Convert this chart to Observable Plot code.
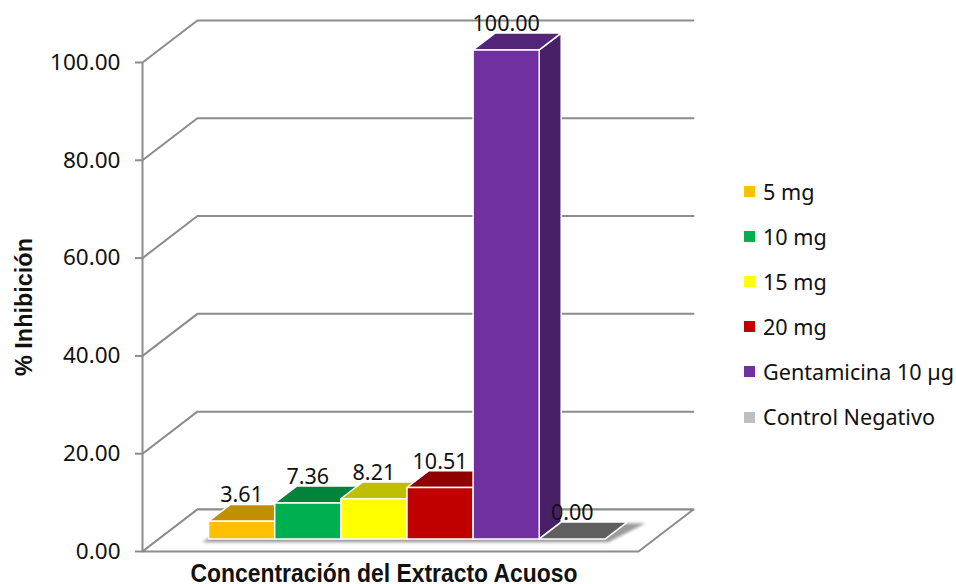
<!DOCTYPE html>
<html lang="es">
<head>
<meta charset="utf-8">
<title>% Inhibición</title>
<script src="https://cdn.jsdelivr.net/npm/d3@7"></script>
<script src="https://cdn.jsdelivr.net/npm/@observablehq/plot@0.6"></script>
<style>
  html, body { margin: 0; padding: 0; background: #fff; }
  #chart { position: relative; width: 956px; height: 584px; overflow: hidden; }
  #chart svg { display: block; }
  .legend { position: absolute; left: 743px; top: 168.5px; font: 21.6px "Noto Sans", sans-serif; color: #111; white-space: nowrap; }
  .legend div { height: 45.2px; line-height: 45.2px; display: flex; align-items: center; }
  .legend i { display: block; width: 11px; height: 11px; margin-right: 8px; border-left: 1px solid #fff; }
</style>
</head>
<body>
<div id="chart"></div>
<script>
// Inhibition by treatment
const categories = ["5 mg", "10 mg", "15 mg", "20 mg", "Gentamicina 10 µg", "Control Negativo"];
const values = [3.61, 7.36, 8.21, 10.51, 100, 0];
const frontColors = ["#FFC000", "#00B050", "#FFFF00", "#C00000", "#7030A0", "#BFBFBF"];
const topColors = ["#BF9000", "#00843C", "#BFBF00", "#900000", "#542478", "#5F5F5F"];
const sideColors = ["#806000", "#005828", "#808000", "#600000", "#482068", "#606060"];
const yTicks = [0, 20, 40, 60, 80, 100];

// Oblique projection: depth 0 is the front of the floor, depth 1 the back wall.
const floorStart = -0.75, floorEnd = 6.75;
const depthX = 0.83, depthY = 8.6;
const barFront = 0.3, barBack = 0.7;
const pt = (u, v, d) => ({x: u + d * depthX, y: v + d * depthY});

const face = (points, options) => Plot.line([...points, points[0]], {x: "x", y: "y", ...options});

const grid = yTicks.map((v) =>
  Plot.line([pt(floorStart, v, 0), pt(floorStart, v, 1), pt(floorEnd, v, 1)], {x: "x", y: "y", stroke: "#8C8C8C", strokeWidth: 2})
);

const floor = face(
  [pt(floorStart, 0, 0), pt(floorStart, 0, 1), pt(floorEnd, 0, 1), pt(floorEnd, 0, 0)],
  {fill: "#fff", stroke: "#8C8C8C", strokeWidth: 2}
);

const shadow = face(
  [pt(-0.08, -0.5, barFront - 0.02), pt(-0.02, -0.5, barBack), pt(6.25, -0.5, barBack + 0.03), pt(6.06, -0.5, barFront - 0.02)],
  {fill: "#9a9a9a", imageFilter: "blur(1.6px)"}
);

const bars = categories.flatMap((c, i) => {
  const v = values[i];
  const edge = {stroke: "#fff", strokeWidth: 1.5, strokeLinejoin: "miter"};
  const marks = [];
  if (v > 0) {
    marks.push(face(
      [pt(i + 1, 0, barFront), pt(i + 1, 0, barBack), pt(i + 1, v, barBack), pt(i + 1, v, barFront)],
      {fill: sideColors[i], ...edge}
    ));
  }
  marks.push(face(
    [pt(i, v, barFront), pt(i, v, barBack), pt(i + 1, v, barBack), pt(i + 1, v, barFront)],
    {fill: topColors[i], ...edge}
  ));
  if (v > 0) {
    marks.push(face(
      [pt(i, 0, barFront), pt(i, v, barFront), pt(i + 1, v, barFront), pt(i + 1, 0, barFront)],
      {fill: frontColors[i], ...edge}
    ));
  }
  return marks;
});

const valueLabels = Plot.text(values.map((v, i) => ({
  x: pt(i + 0.5, v, barFront).x,
  y: pt(i + 0.5, v + 1.8, barBack).y,
  label: v.toFixed(2)
})), {x: "x", y: "y", text: "label", fontSize: 21.5, fill: "#111"});

const boldFont = '"Liberation Sans", sans-serif';

const chart = Plot.plot({
  width: 956,
  height: 584,
  marginLeft: 142,
  marginRight: 318,
  marginTop: 62,
  marginBottom: 33,
  x: {domain: [floorStart, floorEnd], axis: null},
  y: {domain: [0, 100]},
  style: {fontFamily: '"Noto Sans", sans-serif', background: "#fff", overflow: "visible"},
  marks: [
    ...grid,
    floor,
    shadow,
    Plot.ruleX([floorStart], {y1: 0, y2: 100, stroke: "#8C8C8C", strokeWidth: 2}),
    Plot.axisY({
      ticks: yTicks, tickFormat: (d) => d.toFixed(2), tickSize: 7, tickPadding: 15,
      fontSize: 22.5, stroke: "#8C8C8C", strokeWidth: 2, color: "#8C8C8C", fill: "#111", label: null
    }),
    ...bars,
    valueLabels,
    Plot.text(["% Inhibición"], {
      text: (d) => d, frameAnchor: "left", textAnchor: "middle", rotate: -90, dx: -118,
      fontSize: 24, fontWeight: "bold", fontFamily: boldFont, fill: "#111", className: "y-title"
    }),
    Plot.text(["Concentración del Extracto Acuoso"], {
      text: (d) => d, frameAnchor: "bottom", lineAnchor: "middle", dx: -6.5, dy: 22,
      fontSize: 25, fontWeight: "bold", fontFamily: boldFont, fill: "#111", className: "x-title"
    })
  ]
});

// The axis titles are set in a condensed bold, so fit them to their run length.
const condense = (selector, length) => {
  chart.querySelectorAll(`${selector} text`).forEach((t) => {
    t.setAttribute("textLength", length);
    t.setAttribute("lengthAdjust", "spacingAndGlyphs");
  });
};
condense(".y-title", 138);
condense(".x-title", 387);

const host = document.getElementById("chart");
host.append(chart);

// Side legend listing every treatment
const legend = document.createElement("div");
legend.className = "legend";
categories.forEach((c, i) => {
  const row = document.createElement("div");
  const swatch = document.createElement("i");
  swatch.style.background = frontColors[i];
  row.append(swatch, c);
  legend.append(row);
});
host.append(legend);
</script>
</body>
</html>
